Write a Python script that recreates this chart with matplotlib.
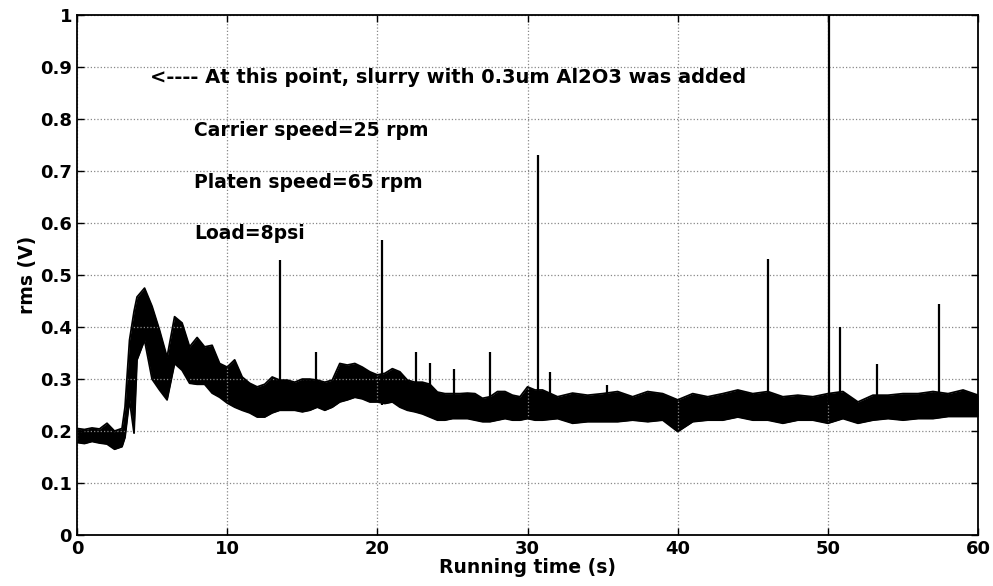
import matplotlib
matplotlib.use("Agg")
import matplotlib.pyplot as plt

# envelope of the noisy rms trace (time in s, rms in V)
env_t = [0.0, 0.5, 1.0, 1.5, 2.0, 2.5, 3.0, 3.2, 3.5, 3.8, 4.0, 4.5, 5.0, 5.5,
         6.0, 6.5, 7.0, 7.5, 8.0, 8.5, 9.0, 9.5, 10.0, 10.5, 11.0, 11.5, 12.0,
         12.5, 13.0, 13.5, 14.0, 14.5, 15.0, 15.5, 16.0, 16.5, 17.0, 17.5, 18.0,
         18.5, 19.0, 19.5, 20.0, 20.5, 21.0, 21.5, 22.0, 22.5, 23.0, 23.5, 24.0,
         24.5, 25.0, 25.5, 26.0, 26.5, 27.0, 27.5, 28.0, 28.5, 29.0, 29.5, 30.0,
         30.5, 31.0, 32, 33, 34, 35, 36, 37, 38, 39, 40, 41, 42, 43, 44, 45, 46,
         47, 48, 49, 50, 51, 52, 53, 54, 55, 56, 57, 58, 59, 60]
env_lo = [0.178, 0.176, 0.180, 0.177, 0.175, 0.165, 0.170, 0.188, 0.260, 0.196,
          0.337, 0.375, 0.300, 0.279, 0.260, 0.330, 0.317, 0.292, 0.290, 0.290,
          0.273, 0.265, 0.254, 0.246, 0.240, 0.235, 0.227, 0.227, 0.235, 0.240,
          0.240, 0.240, 0.237, 0.240, 0.246, 0.240, 0.246, 0.256, 0.260, 0.265,
          0.262, 0.256, 0.256, 0.253, 0.256, 0.246, 0.240, 0.237, 0.233, 0.227,
          0.221, 0.221, 0.224, 0.224, 0.224, 0.221, 0.218, 0.218, 0.221, 0.224,
          0.221, 0.221, 0.224, 0.221, 0.221, 0.224, 0.215, 0.218, 0.218, 0.218,
          0.221, 0.218, 0.221, 0.199, 0.218, 0.221, 0.221, 0.227, 0.221, 0.221,
          0.215, 0.221, 0.221, 0.215, 0.224, 0.215, 0.221, 0.224, 0.221, 0.224,
          0.224, 0.228, 0.228, 0.228]
env_hi = [0.205, 0.203, 0.206, 0.204, 0.215, 0.200, 0.205, 0.246, 0.375, 0.430,
          0.458, 0.475, 0.440, 0.394, 0.342, 0.420, 0.408, 0.362, 0.380, 0.362,
          0.365, 0.330, 0.323, 0.337, 0.304, 0.292, 0.285, 0.290, 0.304, 0.298,
          0.298, 0.294, 0.300, 0.300, 0.298, 0.294, 0.298, 0.330, 0.327, 0.330,
          0.323, 0.314, 0.308, 0.311, 0.320, 0.314, 0.298, 0.294, 0.294, 0.290,
          0.275, 0.272, 0.272, 0.272, 0.273, 0.272, 0.263, 0.266, 0.276, 0.276,
          0.269, 0.266, 0.285, 0.279, 0.279, 0.266, 0.273, 0.269, 0.272, 0.276,
          0.266, 0.276, 0.272, 0.260, 0.272, 0.266, 0.272, 0.279, 0.272, 0.276,
          0.266, 0.269, 0.266, 0.272, 0.276, 0.256, 0.269, 0.269, 0.272, 0.272,
          0.276, 0.272, 0.279, 0.269]

# isolated spikes on top of the trace
spike_t = [13.5, 15.9, 20.3, 22.6, 23.5, 25.1, 27.5, 30.7, 31.5, 35.3,
           46.0, 50.1, 50.8, 53.3, 57.4]
spike_v = [0.529, 0.352, 0.567, 0.352, 0.330, 0.319, 0.352, 0.731, 0.313, 0.288,
           0.531, 1.000, 0.400, 0.329, 0.444]

notes = ["<---- At this point, slurry with 0.3um Al2O3 was added",
         "Carrier speed=25 rpm",
         "Platen speed=65 rpm",
         "Load=8psi"]

plt.rcParams['font.family'] = ['DejaVu Sans']
plt.rcParams['font.weight'] = 'bold'
plt.rcParams['axes.labelweight'] = 'bold'

fig = plt.figure(figsize=(9.93, 5.86), dpi=100)
ax = fig.add_axes([0.0775, 0.087, 0.9075, 0.887])

ax.fill_between(env_t, env_lo, env_hi, color='black', linewidth=0)
ax.plot(env_t, env_lo, color='black', lw=1.3)
ax.plot(env_t, env_hi, color='black', lw=1.3)
ax.vlines(spike_t, 0.25, spike_v, color='black', lw=1.6)

ax.set_xlim(0, 60)
ax.set_ylim(0, 1)
ax.set_xticks(range(0, 61, 10))
ax.set_yticks([i / 10 for i in range(11)])
ax.set_yticklabels(['0', '0.1', '0.2', '0.3', '0.4', '0.5', '0.6', '0.7', '0.8', '0.9', '1'])
ax.grid(True, linestyle=':', color='#888888', linewidth=0.9)
ax.tick_params(direction='in', top=True, right=True, labelsize=13, length=5, width=1)
for s in ax.spines.values():
    s.set_linewidth(1.3)

ax.set_xlabel("Running time (s)", fontsize=13.5, labelpad=0)
ax.set_ylabel("rms (V)", fontsize=13.5, labelpad=2)

ax.text(4.87, 0.881, notes[0], fontsize=14, va='center', ha='left')
ax.text(7.8, 0.779, notes[1], fontsize=13.5, va='center', ha='left')
ax.text(7.8, 0.679, notes[2], fontsize=13.5, va='center', ha='left')
ax.text(7.8, 0.580, notes[3], fontsize=13.5, va='center', ha='left')

fig.savefig("out.png", dpi=100)
